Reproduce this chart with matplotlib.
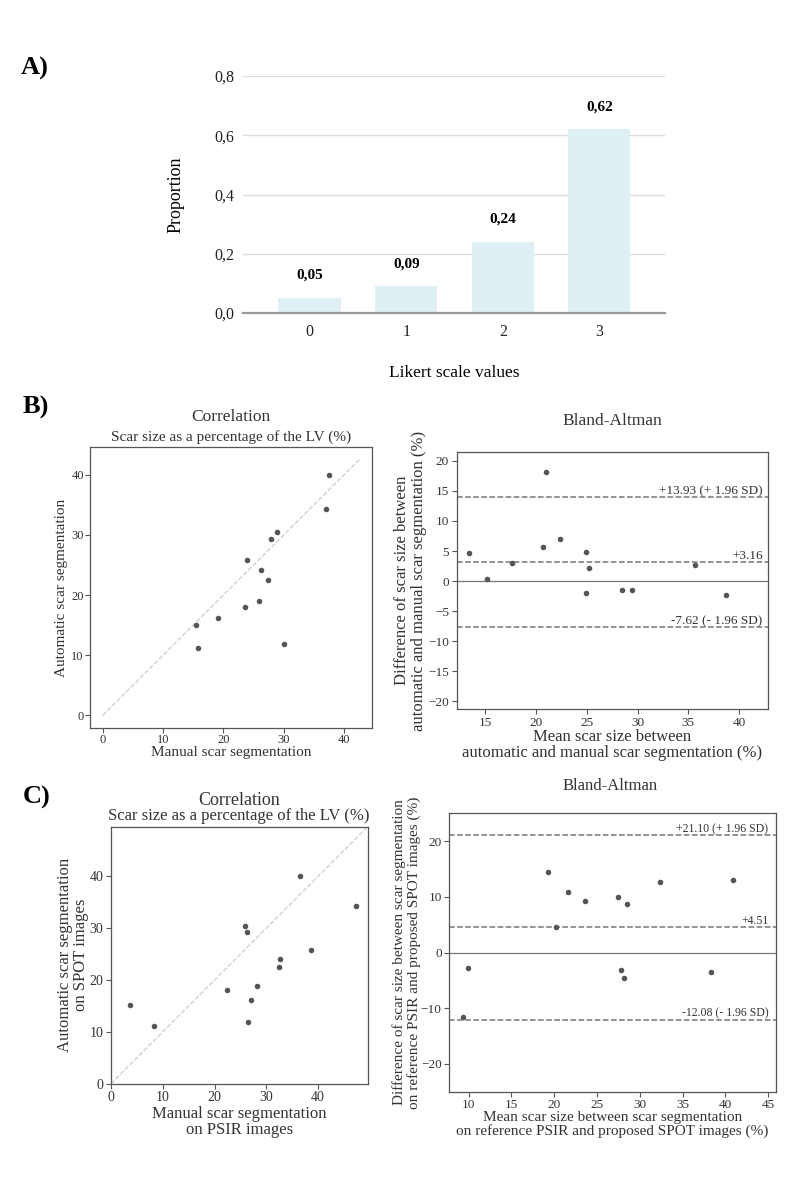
import matplotlib
matplotlib.use('Agg')
import matplotlib.pyplot as plt
import matplotlib.transforms as mtransforms

plt.rcParams['font.family'] = ['Liberation Serif', 'DejaVu Serif']

# --- A) Likert scale proportions ---
likert_values = [0, 1, 2, 3]
likert_labels = ['0', '1', '2', '3']
likert_prop = [0.05, 0.09, 0.24, 0.62]
likert_text = ['0,05', '0,09', '0,24', '0,62']
prop_ticks = [0.0, 0.2, 0.4, 0.6, 0.8]
prop_ticklabels = ['0,0', '0,2', '0,4', '0,6', '0,8']

# --- B) automatic vs manual ---
b_manual = [15.4, 15.8, 19.1, 23.5, 23.9, 25.9, 26.3, 27.3, 27.8, 28.8, 30.1, 37.0, 37.5]
b_auto = [15.1, 11.2, 16.2, 18.0, 25.9, 19.0, 24.1, 22.5, 29.3, 30.4, 11.9, 34.3, 40.0]
b_ba_mean = [13.4, 15.2, 17.6, 20.7, 21.0, 22.4, 24.9, 24.9, 25.2, 28.5, 29.5, 35.7, 38.75]
b_ba_diff = [4.7, 0.4, 3.0, 5.7, 18.2, 7.0, 4.9, -1.9, 2.2, -1.5, -1.5, 2.7, -2.35]
b_bias, b_upper, b_lower = 3.16, 13.93, -7.62

# --- C) SPOT vs PSIR ---
c_manual = [3.6, 8.4, 22.5, 25.9, 26.2, 26.4, 27.0, 28.2, 32.4, 32.7, 36.6, 38.6, 47.3]
c_auto = [15.1, 11.1, 18.0, 30.4, 29.3, 11.9, 16.2, 18.9, 22.5, 24.1, 40.0, 25.8, 34.3]
c_ba_mean = [9.3, 9.9, 19.3, 20.2, 21.6, 23.6, 27.5, 27.75, 28.2, 28.5, 32.3, 38.3, 40.9]
c_ba_diff = [-11.6, -2.7, 14.5, 4.5, 10.8, 9.3, 9.9, -3.2, -4.5, 8.7, 12.7, -3.45, 13.0]
c_bias, c_upper, c_lower = 4.51, 21.10, -12.08

TXT = '#333333'
PT = '#555555'
W, H = 798, 1190

fig = plt.figure(figsize=(7.98, 11.9), dpi=100)


def px(x, y):
    # pixel position (from top-left) -> figure fraction
    return x / W, 1 - y / H


# ---------- A ----------
axA = fig.add_axes([243 / W, 1 - 313 / H, 422 / W, 237 / H])
axA.bar(likert_values, likert_prop, width=0.645, color='#dff0f4', zorder=2)
for x, v, t in zip(likert_values, likert_prop, likert_text):
    axA.text(x, v + 0.055, t, ha='center', va='bottom', fontsize=11, fontweight='bold', color='black')
axA.set_xlim(-0.69, 3.68)
axA.set_ylim(0, 0.8)
axA.set_yticks(prop_ticks)
axA.set_yticklabels(prop_ticklabels)
axA.set_xticks(likert_values)
axA.set_xticklabels(likert_labels)
axA.yaxis.grid(True, color='#dddddd', linewidth=1, zorder=0)
axA.set_axisbelow(True)
for s in ['top', 'right', 'left']:
    axA.spines[s].set_visible(False)
axA.spines['bottom'].set_color('#999999')
axA.spines['bottom'].set_linewidth(1.6)
axA.tick_params(length=0, labelsize=11.5, colors='#222222', pad=6)
axA.tick_params(axis='x', pad=8)
axA.set_ylabel('Proportion', fontsize=13, labelpad=22)
axA.set_xlabel('Likert scale values', fontsize=12.5, labelpad=18)


def style(ax, lab=8.5, pad=2):
    for s in ax.spines.values():
        s.set_color('#555555')
        s.set_linewidth(0.9)
    ax.tick_params(labelsize=lab, colors='#555555', labelcolor=TXT, length=3.5, width=0.8, pad=pad)


def bland_altman(ax, mean, diff, bias, upper, lower, xr, fsize):
    ax.scatter(mean, diff, s=16, color=PT, zorder=3, linewidths=0)
    ax.axhline(0, color='#777777', linewidth=0.9)
    for v in [upper, bias, lower]:
        ax.axhline(v, color='#777777', linestyle='--', linewidth=1.1)
    trans = mtransforms.blended_transform_factory(ax.transAxes, ax.transData)
    ax.text(xr, upper, '+%.2f (+ 1.96 SD)' % upper, transform=trans, ha='right', va='bottom',
            fontsize=fsize, color=TXT)
    ax.text(xr, bias, '+%.2f' % bias, transform=trans, ha='right', va='bottom',
            fontsize=fsize, color=TXT)
    ax.text(xr, lower, '%.2f (- 1.96 SD)' % lower, transform=trans, ha='right', va='bottom',
            fontsize=fsize, color=TXT)


# ---------- B left ----------
axB1 = fig.add_axes([90 / W, 1 - 728 / H, 282 / W, 281 / H])
axB1.plot([0, 42.5], [0, 42.5], linestyle='--', color='#cccccc', linewidth=0.9, zorder=1)
axB1.scatter(b_manual, b_auto, s=16, color=PT, zorder=3, linewidths=0)
axB1.set_xlim(-2.1, 44.6)
axB1.set_ylim(-2.1, 44.6)
axB1.set_xticks([0, 10, 20, 30, 40])
axB1.set_yticks([0, 10, 20, 30, 40])
style(axB1, 9, pad=1)
axB1.set_xlabel('Manual scar segmentation', fontsize=11, color=TXT, labelpad=0)
axB1.set_ylabel('Automatic scar segmentation', fontsize=11, color=TXT, labelpad=2)
fig.text(*px(231, 416.7), 'Correlation', fontsize=12.5, color=TXT, ha='center', va='center')
fig.text(*px(231, 436.7), 'Scar size as a percentage of the LV (%)', fontsize=11, color=TXT,
         ha='center', va='center')

# ---------- B right ----------
axB2 = fig.add_axes([456.7 / W, 1 - 709.3 / H, 311 / W, 257.6 / H])
bland_altman(axB2, b_ba_mean, b_ba_diff, b_bias, b_upper, b_lower, 0.984, 9.5)
axB2.set_xlim(12.17, 42.83)
axB2.set_ylim(-21.3, 21.5)
axB2.set_xticks([15, 20, 25, 30, 35, 40])
axB2.set_yticks([-20, -15, -10, -5, 0, 5, 10, 15, 20])
style(axB2, 9.5)
axB2.set_xlabel('Mean scar size between\nautomatic and manual scar segmentation (%)', fontsize=12,
                color=TXT, labelpad=0, linespacing=1.0)
axB2.set_ylabel('Difference of scar size between\nautomatic and manual scar segmentation (%)',
                fontsize=12, color=TXT, labelpad=1, linespacing=1.05)
fig.text(*px(612, 420.7), 'Bland-Altman', fontsize=12.5, color=TXT, ha='center', va='center')

# ---------- C left ----------
axC1 = fig.add_axes([111 / W, 1 - 1083.7 / H, 256.7 / W, 257 / H])
axC1.plot([0, 49.6], [0, 49.6], linestyle='--', color='#cccccc', linewidth=0.9, zorder=1)
axC1.scatter(c_manual, c_auto, s=16, color=PT, zorder=3, linewidths=0)
axC1.set_xlim(0, 49.6)
axC1.set_ylim(0, 49.6)
axC1.set_xticks([0, 10, 20, 30, 40])
axC1.set_yticks([0, 10, 20, 30, 40])
style(axC1, 10, pad=2)
axC1.set_xlabel('Manual scar segmentation\non PSIR images', fontsize=12, color=TXT, labelpad=1,
                linespacing=1.0)
axC1.set_ylabel('Automatic scar segmentation\non SPOT images', fontsize=12, color=TXT, labelpad=0,
                linespacing=1.05)
fig.text(*px(239, 800.7), 'Correlation', fontsize=13, color=TXT, ha='center', va='center')
fig.text(*px(239, 816), 'Scar size as a percentage of the LV (%)', fontsize=12, color=TXT,
         ha='center', va='center')

# ---------- C right ----------
axC2 = fig.add_axes([449.3 / W, 1 - 1091.7 / H, 326.7 / W, 278.4 / H])
bland_altman(axC2, c_ba_mean, c_ba_diff, c_bias, c_upper, c_lower, 0.977, 8.5)
axC2.set_xlim(7.74, 45.9)
axC2.set_ylim(-25, 25)
axC2.set_xticks([10, 15, 20, 25, 30, 35, 40, 45])
axC2.set_yticks([-20, -10, 0, 10, 20])
style(axC2, 9.5)
axC2.set_xlabel('Mean scar size between scar segmentation\non reference PSIR and proposed SPOT images (%)',
                fontsize=11, color=TXT, labelpad=0, linespacing=1.0)
axC2.set_ylabel('Difference of scar size between scar segmentation\non reference PSIR and proposed SPOT images (%)',
                fontsize=11, color=TXT, labelpad=-0.5, linespacing=1.1)
fig.text(*px(610, 785.7), 'Bland-Altman', fontsize=12, color=TXT, ha='center', va='center')

# panel letters
fig.text(*px(21, 68), 'A)', fontsize=19, fontweight='bold', va='center', ha='left')
fig.text(*px(23, 407), 'B)', fontsize=19, fontweight='bold', va='center', ha='left')
fig.text(*px(23, 797), 'C)', fontsize=19, fontweight='bold', va='center', ha='left')

fig.savefig('out.png', dpi=100)
